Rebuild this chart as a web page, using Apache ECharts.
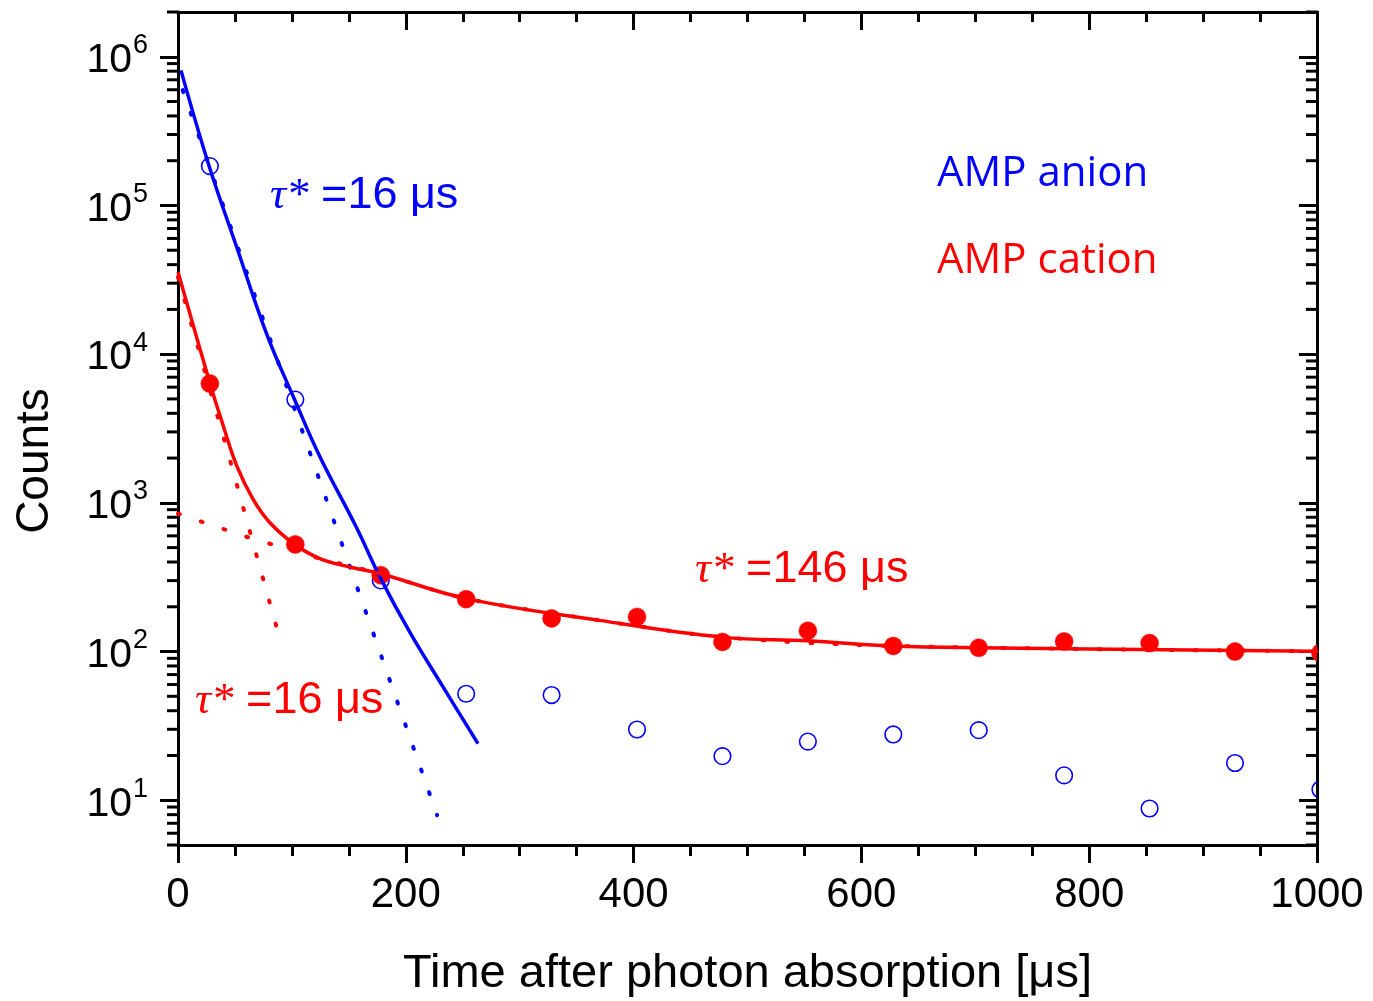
<!DOCTYPE html>
<html>
<head>
<meta charset="utf-8">
<script src="https://cdn.jsdelivr.net/npm/echarts@6/dist/echarts.min.js"></script>
<style>
  html, body { margin: 0; padding: 0; background: #fff; }
  #chart { width: 1373px; height: 1001px; }
</style>
</head>
<body>
<div id="chart"></div>
<script>
// ---- data ----
const timeUs = [28, 103, 178, 253, 328, 403, 478, 553, 628, 703, 778, 853, 928, 1003];
const anionCounts = [184000, 4950, 301, 52, 51, 29.9, 19.8, 24.8, 27.7, 29.6, 14.7, 8.8, 17.8, 11.8];
const cationCounts = [6340, 525, 326, 225, 167, 171, 116, 138, 109, 106, 117, 114, 100, 98];

// fitted curves (solid)
const anionFitTime = [2.6, 27.5, 51.5, 77.8, 102.6, 124.6, 156.8, 177.2, 203.5, 232.7, 263.4];
const anionFitCounts = [810000, 182000, 52600, 13700, 4900, 2040, 680, 318, 135, 57.8, 24];
const cationFitTime = [0, 28.1, 39.7, 51.5, 66.1, 80.7, 102.6, 124.6, 150.9, 177.2, 253.2, 370.2, 477.8, 552.9, 627.8, 702.9, 1000];
const cationFitCounts = [35700, 6340, 3300, 1780, 1050, 735, 525, 422, 370, 335, 227, 162, 125, 118, 109, 106, 100.5];

// single-exponential components (dotted)
const anionDotTime = [4.1, 108.6, 227.5];
const anionDotCounts = [596000, 3126, 7.93];
const cationFastTime = [0, 44.7, 89];
const cationFastCounts = [33000, 2056, 125];
const cationSlowTime = [0, 21.3, 40.6, 60.8, 80.7, 124.6, 177.2, 253.2, 370.2, 477.8, 627.8, 1000];
const cationSlowCounts = [847, 744, 664, 589, 531, 422, 335, 227, 162, 125, 109, 100.5];

// axis ticks
const xTickLabels = [0, 200, 400, 600, 800, 1000];
const yMajorTicks = [10, 100, 1000, 10000, 100000, 1000000];
const yMinorTicks = [];
[1, 10, 100, 1000, 10000, 100000, 1000000].forEach(function (d) {
  for (let k = 2; k <= 9; k++) {
    const v = k * d;
    if (v >= 5 && v <= 2000000) yMinorTicks.push(v);
  }
});

const BLUE = '#0000ff';
const RED = '#ff0000';
const SANS = 'Liberation Sans';

function zip(a, b) { return a.map(function (v, i) { return [v, b[i]]; }); }

const chart = echarts.init(document.getElementById('chart'), null, { renderer: 'canvas' });

const axisLineStyle = { color: '#000', width: 3 };

function circleItem(filled, color) {
  return function (params, api) {
    const p = api.coord([api.value(0), api.value(1)]);
    return {
      type: 'circle',
      shape: { cx: p[0], cy: p[1], r: filled ? 9 : 8.3 },
      style: filled ? { fill: color, stroke: color, lineWidth: 0.5 } : { fill: 'none', stroke: color, lineWidth: 1.6 }
    };
  };
}

function minorTickItem(params, api) {
  const v = api.value(1);
  const pl = api.coord([0, v]);
  const pr = api.coord([1000, v]);
  const st = { stroke: '#000', lineWidth: 3 };
  return {
    type: 'group',
    children: [
      { type: 'line', shape: { x1: pl[0] - 11, y1: pl[1], x2: pl[0], y2: pl[1] }, style: st },
      { type: 'line', shape: { x1: pr[0] - 11, y1: pr[1], x2: pr[0], y2: pr[1] }, style: st }
    ]
  };
}

function tauLabel(text, color) {
  return {
    text: text, align: 'left', verticalAlign: 'middle', fill: color,
    rich: {
      g: { fill: color, fontFamily: 'Liberation Serif', fontStyle: 'italic', fontSize: 45 },
      n: { fill: color, fontFamily: SANS, fontSize: 45 }
    }
  };
}

const option = {
  animation: false,
  backgroundColor: '#fff',
  grid: { left: 178, right: 56, top: 12, bottom: 156, outerBoundsMode: 'none', containLabel: false },
  xAxis: [
    {
      type: 'value', position: 'bottom', min: 0, max: 1000, interval: 200,
      axisLine: { show: true, onZero: false, lineStyle: axisLineStyle },
      axisTick: { show: true, inside: false, length: 18, lineStyle: { color: '#000', width: 3 } },
      minorTick: { show: true, splitNumber: 4, length: 11, lineStyle: { color: '#000', width: 3 } },
      splitLine: { show: false }, minorSplitLine: { show: false },
      axisLabel: {
        show: true, margin: 29, color: '#000', fontSize: 42, fontFamily: SANS,
        customValues: xTickLabels,
        formatter: function (v) { return String(v); }
      },
      name: 'Time after photon absorption [μs]',
      nameLocation: 'middle', nameGap: 106,
      nameTextStyle: { color: '#000', fontSize: 47, fontFamily: SANS }
    },
    {
      type: 'value', position: 'top', min: 0, max: 1000, interval: 200,
      axisLine: { show: true, onZero: false, lineStyle: axisLineStyle },
      axisTick: { show: true, inside: true, length: 18, lineStyle: { color: '#000', width: 3 } },
      minorTick: { show: true, splitNumber: 4, length: 10, lineStyle: { color: '#000', width: 3 } },
      splitLine: { show: false }, minorSplitLine: { show: false },
      axisLabel: { show: false }
    }
  ],
  yAxis: [
    {
      type: 'log', logBase: 10, position: 'left', min: 5, max: 2000000,
      axisLine: { show: true, onZero: false, lineStyle: axisLineStyle },
      axisTick: { show: true, inside: false, length: 18, customValues: yMajorTicks, lineStyle: { color: '#000', width: 3 } },
      splitLine: { show: false },
      axisLabel: {
        show: true, margin: 30, customValues: yMajorTicks,
        formatter: function (v) {
          const e = Math.round(Math.log10(v));
          return '{b|10}{s|' + e + '}';
        },
        rich: {
          b: { fontSize: 41, fontFamily: SANS, color: '#000', verticalAlign: 'bottom', lineHeight: 42 },
          s: { fontSize: 27, fontFamily: SANS, color: '#000', verticalAlign: 'top', padding: [0, 0, 22, 1] }
        }
      }
    },
    {
      type: 'log', logBase: 10, position: 'right', min: 5, max: 2000000,
      axisLine: { show: true, onZero: false, lineStyle: axisLineStyle },
      axisTick: { show: true, inside: true, length: 18, customValues: yMajorTicks, lineStyle: { color: '#000', width: 3 } },
      splitLine: { show: false },
      axisLabel: { show: false }
    }
  ],
  graphic: [
    {
      type: 'text', x: 35, y: 461, rotation: Math.PI / 2,
      style: { text: 'Counts', fill: '#000', font: '46px "Liberation Sans"', align: 'center', verticalAlign: 'middle' }
    },
    {
      type: 'text', x: 937, y: 174,
      style: { text: 'AMP anion', fill: BLUE, font: '42px "Open Sans"', align: 'left', verticalAlign: 'middle' }
    },
    {
      type: 'text', x: 937, y: 261,
      style: { text: 'AMP cation', fill: RED, font: '42px "Open Sans"', align: 'left', verticalAlign: 'middle' }
    },
    { type: 'text', x: 270, y: 196, style: tauLabel('{g|τ*}{n| =16 μs}', BLUE) },
    { type: 'text', x: 695, y: 570, style: tauLabel('{g|τ*}{n| =146 μs}', RED) },
    { type: 'text', x: 195, y: 701, style: tauLabel('{g|τ*}{n| =16 μs}', RED) }
  ],
  series: [
    {
      name: 'minor ticks', type: 'custom', xAxisIndex: 0, yAxisIndex: 0, clip: false, silent: true,
      data: yMinorTicks.map(function (v) { return [0, v]; }), encode: { x: 0, y: 1 },
      renderItem: minorTickItem
    },
    {
      name: 'anion single exp', type: 'line', xAxisIndex: 0, yAxisIndex: 0,
      data: zip(anionDotTime, anionDotCounts), showSymbol: false, symbol: 'none',
      lineStyle: { color: BLUE, width: 4, type: [2, 22], cap: 'round' }, clip: true
    },
    {
      name: 'cation fast', type: 'line', xAxisIndex: 0, yAxisIndex: 0,
      data: zip(cationFastTime, cationFastCounts), showSymbol: false, symbol: 'none',
      lineStyle: { color: RED, width: 4, type: [2, 22], cap: 'round' }, clip: true
    },
    {
      name: 'cation slow', type: 'line', xAxisIndex: 0, yAxisIndex: 0, smooth: 0.3,
      data: zip(cationSlowTime, cationSlowCounts), showSymbol: false, symbol: 'none',
      lineStyle: { color: RED, width: 4, type: [2, 22], cap: 'round' }, clip: true
    },
    {
      name: 'anion fit', type: 'line', xAxisIndex: 0, yAxisIndex: 0, smooth: 0.4,
      data: zip(anionFitTime, anionFitCounts), showSymbol: false, symbol: 'none',
      lineStyle: { color: BLUE, width: 3.5 }, clip: true
    },
    {
      name: 'cation fit', type: 'line', xAxisIndex: 0, yAxisIndex: 0, smooth: 0.4,
      data: zip(cationFitTime, cationFitCounts), showSymbol: false, symbol: 'none',
      lineStyle: { color: RED, width: 3.5 }, clip: true
    },
    {
      name: 'AMP anion', type: 'custom', xAxisIndex: 0, yAxisIndex: 0, clip: true,
      data: zip(timeUs, anionCounts), encode: { x: 0, y: 1 },
      renderItem: circleItem(false, BLUE)
    },
    {
      name: 'AMP cation', type: 'custom', xAxisIndex: 0, yAxisIndex: 0, clip: true,
      data: zip(timeUs, cationCounts), encode: { x: 0, y: 1 },
      renderItem: circleItem(true, RED)
    }
  ]
};

chart.setOption(option);
</script>
</body>
</html>
